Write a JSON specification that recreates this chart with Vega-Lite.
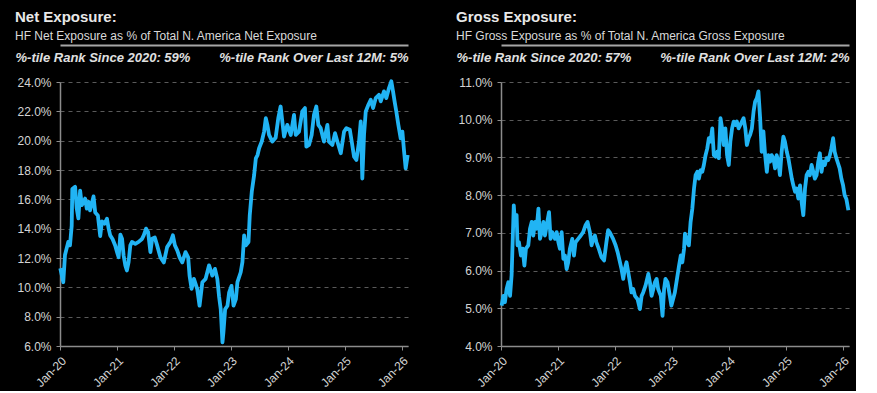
{
  "$schema": "https://vega.github.io/schema/vega-lite/v6.json",
  "background": "#000000",
  "padding": {"left": 15, "top": 10, "right": 5, "bottom": 2},
  "spacing": 46,
  "config": {
    "view": {"stroke": null},
    "font": "Liberation Sans",
    "axis": {
      "domainColor": "#8c8c8c",
      "domainWidth": 1.5,
      "tickColor": "#8c8c8c",
      "tickSize": 4,
      "labelColor": "#d4d4d4",
      "labelFontSize": 12,
      "labelFont": "Liberation Sans",
      "labelPadding": 5,
      "labelOverlap": false,
      "gridColor": "#5a5a5a",
      "gridDash": [4, 4],
      "gridWidth": 1
    },
    "title": {
      "anchor": "start",
      "frame": "bounds",
      "font": "Liberation Sans",
      "fontSize": 15,
      "fontWeight": "bold",
      "color": "#e8e8e8",
      "subtitleFont": "Liberation Sans",
      "subtitleFontSize": 12,
      "subtitleColor": "#d9d9d9",
      "subtitlePadding": 6,
      "offset": 3
    }
  },
  "datasets": {
    "net": [
      {"date": "2020-01-03", "value": 11.3},
      {"date": "2020-01-22", "value": 10.35},
      {"date": "2020-02-02", "value": 12.2},
      {"date": "2020-02-23", "value": 13.1},
      {"date": "2020-03-05", "value": 12.86},
      {"date": "2020-03-16", "value": 14.2},
      {"date": "2020-03-20", "value": 16.7},
      {"date": "2020-04-07", "value": 16.85},
      {"date": "2020-04-17", "value": 15.4},
      {"date": "2020-04-28", "value": 14.7},
      {"date": "2020-05-09", "value": 16.6},
      {"date": "2020-05-20", "value": 15.6},
      {"date": "2020-06-10", "value": 16.05},
      {"date": "2020-06-21", "value": 15.37},
      {"date": "2020-07-02", "value": 15.83},
      {"date": "2020-07-12", "value": 15.25},
      {"date": "2020-08-03", "value": 16.2},
      {"date": "2020-08-14", "value": 15.1},
      {"date": "2020-08-31", "value": 14.9},
      {"date": "2020-09-15", "value": 13.5},
      {"date": "2020-09-26", "value": 14.5},
      {"date": "2020-10-13", "value": 14.34},
      {"date": "2020-10-28", "value": 14.68},
      {"date": "2020-11-08", "value": 14.0},
      {"date": "2020-11-18", "value": 13.54},
      {"date": "2020-12-03", "value": 13.3},
      {"date": "2020-12-20", "value": 12.85},
      {"date": "2021-01-01", "value": 12.4},
      {"date": "2021-01-11", "value": 12.05},
      {"date": "2021-01-22", "value": 13.6},
      {"date": "2021-02-02", "value": 13.32},
      {"date": "2021-02-12", "value": 12.17},
      {"date": "2021-02-23", "value": 11.5},
      {"date": "2021-03-05", "value": 11.15},
      {"date": "2021-03-16", "value": 11.72},
      {"date": "2021-03-27", "value": 12.86},
      {"date": "2021-04-07", "value": 13.1},
      {"date": "2021-04-28", "value": 12.97},
      {"date": "2021-05-19", "value": 13.1},
      {"date": "2021-06-10", "value": 13.3},
      {"date": "2021-06-21", "value": 13.54},
      {"date": "2021-07-06", "value": 14.0},
      {"date": "2021-07-19", "value": 13.77},
      {"date": "2021-08-03", "value": 12.4},
      {"date": "2021-08-14", "value": 13.32},
      {"date": "2021-08-31", "value": 13.4},
      {"date": "2021-09-15", "value": 12.86},
      {"date": "2021-10-06", "value": 12.05},
      {"date": "2021-10-28", "value": 11.7},
      {"date": "2021-11-18", "value": 12.74},
      {"date": "2021-12-10", "value": 13.1},
      {"date": "2021-12-25", "value": 13.55},
      {"date": "2022-01-07", "value": 12.86},
      {"date": "2022-01-22", "value": 12.52},
      {"date": "2022-02-06", "value": 12.05},
      {"date": "2022-02-23", "value": 11.7},
      {"date": "2022-03-16", "value": 12.4},
      {"date": "2022-04-02", "value": 12.05},
      {"date": "2022-04-11", "value": 10.8},
      {"date": "2022-04-24", "value": 9.9},
      {"date": "2022-05-09", "value": 10.58},
      {"date": "2022-05-30", "value": 9.9},
      {"date": "2022-06-14", "value": 8.75},
      {"date": "2022-07-02", "value": 10.35},
      {"date": "2022-07-23", "value": 10.58},
      {"date": "2022-08-14", "value": 11.5},
      {"date": "2022-09-04", "value": 10.8},
      {"date": "2022-09-21", "value": 11.26},
      {"date": "2022-10-06", "value": 10.58},
      {"date": "2022-10-17", "value": 9.4},
      {"date": "2022-10-28", "value": 8.5},
      {"date": "2022-11-08", "value": 6.25},
      {"date": "2022-11-14", "value": 6.92},
      {"date": "2022-11-25", "value": 8.5},
      {"date": "2022-12-10", "value": 8.75},
      {"date": "2022-12-21", "value": 9.66},
      {"date": "2023-01-05", "value": 10.1},
      {"date": "2023-01-18", "value": 8.75},
      {"date": "2023-02-02", "value": 9.2},
      {"date": "2023-02-12", "value": 10.35},
      {"date": "2023-03-05", "value": 11.03},
      {"date": "2023-03-16", "value": 11.72},
      {"date": "2023-03-27", "value": 13.54},
      {"date": "2023-04-07", "value": 12.86},
      {"date": "2023-04-24", "value": 13.09},
      {"date": "2023-05-02", "value": 14.91},
      {"date": "2023-05-15", "value": 16.51},
      {"date": "2023-05-30", "value": 17.65},
      {"date": "2023-06-10", "value": 18.79},
      {"date": "2023-06-21", "value": 19.02},
      {"date": "2023-07-01", "value": 19.48},
      {"date": "2023-07-18", "value": 19.94},
      {"date": "2023-08-02", "value": 20.62},
      {"date": "2023-08-13", "value": 21.53},
      {"date": "2023-08-23", "value": 21.08},
      {"date": "2023-09-03", "value": 20.39},
      {"date": "2023-09-24", "value": 19.94},
      {"date": "2023-10-15", "value": 20.2},
      {"date": "2023-11-01", "value": 21.53},
      {"date": "2023-11-16", "value": 22.33},
      {"date": "2023-11-27", "value": 21.31},
      {"date": "2023-12-08", "value": 20.28},
      {"date": "2023-12-29", "value": 21.08},
      {"date": "2024-01-20", "value": 20.39},
      {"date": "2024-02-10", "value": 21.76},
      {"date": "2024-02-21", "value": 20.39},
      {"date": "2024-03-13", "value": 20.62},
      {"date": "2024-04-03", "value": 21.99},
      {"date": "2024-04-20", "value": 22.22},
      {"date": "2024-04-29", "value": 19.59},
      {"date": "2024-05-16", "value": 19.71},
      {"date": "2024-06-02", "value": 20.39},
      {"date": "2024-06-17", "value": 21.76},
      {"date": "2024-07-02", "value": 22.33},
      {"date": "2024-07-15", "value": 21.08},
      {"date": "2024-07-30", "value": 20.85},
      {"date": "2024-08-20", "value": 19.94},
      {"date": "2024-09-11", "value": 21.08},
      {"date": "2024-09-21", "value": 19.94},
      {"date": "2024-10-13", "value": 19.71},
      {"date": "2024-10-30", "value": 20.51},
      {"date": "2024-11-14", "value": 19.94},
      {"date": "2024-12-06", "value": 19.14},
      {"date": "2024-12-27", "value": 20.62},
      {"date": "2025-01-11", "value": 20.85},
      {"date": "2025-02-02", "value": 20.74},
      {"date": "2025-02-14", "value": 19.94},
      {"date": "2025-03-01", "value": 18.91},
      {"date": "2025-03-16", "value": 18.68},
      {"date": "2025-04-02", "value": 19.94},
      {"date": "2025-04-13", "value": 21.31},
      {"date": "2025-04-23", "value": 17.42},
      {"date": "2025-05-04", "value": 20.39},
      {"date": "2025-05-15", "value": 21.99},
      {"date": "2025-06-01", "value": 22.45},
      {"date": "2025-06-16", "value": 22.79},
      {"date": "2025-07-01", "value": 22.22},
      {"date": "2025-07-18", "value": 22.9},
      {"date": "2025-08-08", "value": 23.13},
      {"date": "2025-08-19", "value": 22.68},
      {"date": "2025-09-09", "value": 23.36},
      {"date": "2025-09-24", "value": 22.9},
      {"date": "2025-10-11", "value": 23.59},
      {"date": "2025-10-26", "value": 24.05},
      {"date": "2025-11-06", "value": 23.36},
      {"date": "2025-11-16", "value": 22.68},
      {"date": "2025-11-27", "value": 21.99},
      {"date": "2025-12-10", "value": 21.08},
      {"date": "2025-12-25", "value": 20.16},
      {"date": "2026-01-05", "value": 20.62},
      {"date": "2026-01-16", "value": 19.25},
      {"date": "2026-01-26", "value": 18.11},
      {"date": "2026-02-08", "value": 19.02}
    ],
    "gross": [
      {"date": "2020-01-05", "value": 5.07},
      {"date": "2020-01-16", "value": 5.33},
      {"date": "2020-01-26", "value": 5.16},
      {"date": "2020-02-06", "value": 5.51},
      {"date": "2020-02-17", "value": 5.69},
      {"date": "2020-02-28", "value": 5.33},
      {"date": "2020-03-09", "value": 5.87},
      {"date": "2020-03-17", "value": 6.93},
      {"date": "2020-03-23", "value": 7.73},
      {"date": "2020-03-30", "value": 7.29},
      {"date": "2020-04-10", "value": 7.47},
      {"date": "2020-04-16", "value": 6.67},
      {"date": "2020-04-25", "value": 6.75},
      {"date": "2020-05-08", "value": 6.4},
      {"date": "2020-05-19", "value": 6.58},
      {"date": "2020-05-30", "value": 6.13},
      {"date": "2020-06-09", "value": 6.58},
      {"date": "2020-06-24", "value": 6.67},
      {"date": "2020-07-05", "value": 7.11},
      {"date": "2020-07-16", "value": 7.29},
      {"date": "2020-07-26", "value": 6.93},
      {"date": "2020-08-06", "value": 7.29},
      {"date": "2020-08-17", "value": 7.11},
      {"date": "2020-08-28", "value": 7.64},
      {"date": "2020-09-07", "value": 6.84},
      {"date": "2020-09-18", "value": 7.02},
      {"date": "2020-09-29", "value": 7.29},
      {"date": "2020-10-09", "value": 6.93},
      {"date": "2020-10-20", "value": 7.2},
      {"date": "2020-11-04", "value": 7.55},
      {"date": "2020-11-14", "value": 6.84},
      {"date": "2020-11-25", "value": 7.02},
      {"date": "2020-12-12", "value": 6.84},
      {"date": "2020-12-23", "value": 7.02},
      {"date": "2021-01-03", "value": 6.75},
      {"date": "2021-01-13", "value": 6.58},
      {"date": "2021-01-24", "value": 7.02},
      {"date": "2021-02-04", "value": 6.31},
      {"date": "2021-02-14", "value": 6.4},
      {"date": "2021-02-25", "value": 6.04},
      {"date": "2021-03-07", "value": 6.22},
      {"date": "2021-03-18", "value": 6.58},
      {"date": "2021-04-02", "value": 6.84},
      {"date": "2021-04-13", "value": 6.4},
      {"date": "2021-04-23", "value": 6.75},
      {"date": "2021-05-10", "value": 6.84},
      {"date": "2021-05-27", "value": 6.93},
      {"date": "2021-06-11", "value": 7.02},
      {"date": "2021-06-26", "value": 7.2},
      {"date": "2021-07-09", "value": 7.29},
      {"date": "2021-07-24", "value": 7.02},
      {"date": "2021-08-04", "value": 6.67},
      {"date": "2021-08-14", "value": 6.84},
      {"date": "2021-08-25", "value": 6.93},
      {"date": "2021-09-04", "value": 6.75},
      {"date": "2021-09-19", "value": 6.58},
      {"date": "2021-10-06", "value": 6.36},
      {"date": "2021-10-23", "value": 6.27},
      {"date": "2021-11-07", "value": 6.75},
      {"date": "2021-11-18", "value": 7.07},
      {"date": "2021-11-28", "value": 7.02},
      {"date": "2021-12-20", "value": 6.84},
      {"date": "2022-01-05", "value": 6.67},
      {"date": "2022-01-18", "value": 6.49},
      {"date": "2022-02-02", "value": 6.22},
      {"date": "2022-02-12", "value": 6.04},
      {"date": "2022-02-23", "value": 5.78},
      {"date": "2022-03-05", "value": 6.04},
      {"date": "2022-03-16", "value": 6.22},
      {"date": "2022-03-27", "value": 5.96},
      {"date": "2022-04-07", "value": 5.69},
      {"date": "2022-04-17", "value": 5.42},
      {"date": "2022-04-28", "value": 5.51},
      {"date": "2022-05-09", "value": 5.33},
      {"date": "2022-05-26", "value": 5.24},
      {"date": "2022-06-10", "value": 4.98},
      {"date": "2022-06-21", "value": 5.33},
      {"date": "2022-07-01", "value": 5.42},
      {"date": "2022-07-16", "value": 5.6},
      {"date": "2022-08-03", "value": 5.91},
      {"date": "2022-08-13", "value": 5.69},
      {"date": "2022-08-24", "value": 5.33},
      {"date": "2022-09-04", "value": 5.51},
      {"date": "2022-09-14", "value": 5.69},
      {"date": "2022-09-25", "value": 5.78},
      {"date": "2022-10-05", "value": 5.51},
      {"date": "2022-10-22", "value": 5.33},
      {"date": "2022-11-02", "value": 4.8},
      {"date": "2022-11-12", "value": 5.51},
      {"date": "2022-11-21", "value": 5.78},
      {"date": "2022-12-04", "value": 5.69},
      {"date": "2022-12-19", "value": 5.33},
      {"date": "2022-12-29", "value": 5.07},
      {"date": "2023-01-20", "value": 5.42},
      {"date": "2023-02-06", "value": 5.87},
      {"date": "2023-02-16", "value": 6.13},
      {"date": "2023-02-27", "value": 6.4},
      {"date": "2023-03-09", "value": 6.22},
      {"date": "2023-03-20", "value": 6.58},
      {"date": "2023-03-26", "value": 6.98},
      {"date": "2023-04-10", "value": 6.75},
      {"date": "2023-04-20", "value": 6.67},
      {"date": "2023-05-01", "value": 7.29},
      {"date": "2023-05-12", "value": 7.64},
      {"date": "2023-05-23", "value": 8.18},
      {"date": "2023-06-02", "value": 8.53},
      {"date": "2023-06-13", "value": 8.62},
      {"date": "2023-06-23", "value": 8.44},
      {"date": "2023-07-04", "value": 8.66},
      {"date": "2023-07-15", "value": 8.62},
      {"date": "2023-07-25", "value": 8.8},
      {"date": "2023-08-05", "value": 9.06},
      {"date": "2023-08-16", "value": 9.24},
      {"date": "2023-08-26", "value": 9.51},
      {"date": "2023-09-06", "value": 9.42},
      {"date": "2023-09-17", "value": 9.77},
      {"date": "2023-09-27", "value": 9.06},
      {"date": "2023-10-08", "value": 9.02},
      {"date": "2023-10-19", "value": 9.15},
      {"date": "2023-10-29", "value": 8.98},
      {"date": "2023-11-09", "value": 10.04},
      {"date": "2023-11-19", "value": 9.77},
      {"date": "2023-11-30", "value": 9.33},
      {"date": "2023-12-10", "value": 9.77},
      {"date": "2023-12-21", "value": 9.06},
      {"date": "2024-01-01", "value": 8.8},
      {"date": "2024-01-11", "value": 9.42},
      {"date": "2024-01-22", "value": 9.77},
      {"date": "2024-02-01", "value": 9.95},
      {"date": "2024-02-12", "value": 9.86},
      {"date": "2024-02-22", "value": 9.95},
      {"date": "2024-03-04", "value": 9.77},
      {"date": "2024-03-15", "value": 9.86},
      {"date": "2024-03-25", "value": 9.95},
      {"date": "2024-04-05", "value": 10.04},
      {"date": "2024-04-16", "value": 9.77},
      {"date": "2024-04-26", "value": 9.33},
      {"date": "2024-05-07", "value": 9.51},
      {"date": "2024-05-17", "value": 9.6},
      {"date": "2024-05-28", "value": 9.77},
      {"date": "2024-06-08", "value": 10.22},
      {"date": "2024-06-18", "value": 10.48},
      {"date": "2024-06-29", "value": 10.57},
      {"date": "2024-07-09", "value": 10.75},
      {"date": "2024-07-20", "value": 10.04},
      {"date": "2024-07-30", "value": 9.15},
      {"date": "2024-08-10", "value": 9.69},
      {"date": "2024-08-21", "value": 9.06},
      {"date": "2024-09-01", "value": 8.62},
      {"date": "2024-09-11", "value": 9.06},
      {"date": "2024-09-22", "value": 8.89},
      {"date": "2024-10-02", "value": 9.06},
      {"date": "2024-10-13", "value": 8.98},
      {"date": "2024-10-24", "value": 8.71},
      {"date": "2024-11-03", "value": 9.06},
      {"date": "2024-11-14", "value": 8.89},
      {"date": "2024-11-24", "value": 8.53},
      {"date": "2024-12-05", "value": 9.15},
      {"date": "2024-12-16", "value": 9.55},
      {"date": "2024-12-26", "value": 9.42},
      {"date": "2025-01-07", "value": 9.15},
      {"date": "2025-01-17", "value": 8.98},
      {"date": "2025-01-28", "value": 8.71},
      {"date": "2025-02-08", "value": 8.44},
      {"date": "2025-02-18", "value": 8.26},
      {"date": "2025-03-01", "value": 8.09},
      {"date": "2025-03-11", "value": 8.18},
      {"date": "2025-03-22", "value": 7.91},
      {"date": "2025-04-02", "value": 8.26},
      {"date": "2025-04-12", "value": 7.82},
      {"date": "2025-04-23", "value": 7.47},
      {"date": "2025-05-04", "value": 8.18},
      {"date": "2025-05-14", "value": 8.53},
      {"date": "2025-05-25", "value": 8.62},
      {"date": "2025-06-04", "value": 8.53},
      {"date": "2025-06-15", "value": 8.8},
      {"date": "2025-06-26", "value": 8.62},
      {"date": "2025-07-06", "value": 8.44},
      {"date": "2025-07-17", "value": 8.53},
      {"date": "2025-07-28", "value": 8.89},
      {"date": "2025-08-07", "value": 9.11},
      {"date": "2025-08-18", "value": 8.62},
      {"date": "2025-08-28", "value": 8.89},
      {"date": "2025-09-08", "value": 8.8},
      {"date": "2025-09-19", "value": 8.98},
      {"date": "2025-09-29", "value": 8.93},
      {"date": "2025-10-10", "value": 9.06},
      {"date": "2025-10-20", "value": 9.24},
      {"date": "2025-10-31", "value": 9.51},
      {"date": "2025-11-10", "value": 9.15},
      {"date": "2025-11-21", "value": 8.98},
      {"date": "2025-12-02", "value": 8.84},
      {"date": "2025-12-12", "value": 8.71},
      {"date": "2025-12-23", "value": 8.44},
      {"date": "2026-01-03", "value": 8.26},
      {"date": "2026-01-13", "value": 8.0},
      {"date": "2026-01-24", "value": 7.9},
      {"date": "2026-02-06", "value": 7.6}
    ]
  },
  "hconcat": [
    {
      "width": 348,
      "height": 264,
      "title": {"text": "Net Exposure:", "subtitle": "HF Net Exposure as % of Total N. America Net Exposure"},
      "data": {"name": "net"},
      "layer": [
        {
          "mark": {"type": "line", "color": "#21b4f4", "strokeWidth": 3.8, "strokeJoin": "round"},
          "encoding": {
            "x": {
              "field": "date", "type": "temporal",
              "scale": {"domain": [{"year": 2020, "month": 1, "date": 1}, {"year": 2026, "month": 2, "date": 10}]},
              "axis": {"orient": "bottom", "format": "%b-%y", "labelAngle": -45, "tickCount": {"interval": "year", "step": 1}, "grid": false, "title": null}
            },
            "y": {
              "field": "value", "type": "quantitative",
              "scale": {"domain": [6, 24], "nice": false, "zero": false},
              "axis": {"values": [6, 8, 10, 12, 14, 16, 18, 20, 22, 24], "tickCount": 30, "labelExpr": "format(datum.value, '.1f') + '%'", "title": null, "grid": true}
            }
          }
        },
        {
          "mark": {"type": "line", "opacity": 0},
          "encoding": {
            "x": {
              "field": "date", "type": "temporal",
              "axis": {"orient": "top", "offset": 37, "labels": false, "ticks": false, "grid": false, "domainColor": "#a6a6a6", "domainWidth": 2,
                "title": "%-tile Rank Since 2020: 59%\u00a0\u00a0\u00a0\u00a0\u00a0\u00a0\u00a0\u00a0%-tile Rank Over Last 12M: 5%",
                "titleX": -45, "titleY": 16, "titleAlign": "left", "titleAnchor": null, "titleBaseline": "alphabetic",
                "titleFontStyle": "italic", "titleFontWeight": "bold", "titleFontSize": 13, "titleColor": "#e0e0e0", "titleFont": "Liberation Sans"}
            },
            "y": {"field": "value", "type": "quantitative", "axis": {"tickCount": 30}}
          }
        }
      ],
      "resolve": {"axis": {"x": "independent"}}
    },
    {
      "width": 348,
      "height": 264,
      "title": {"text": "Gross Exposure:", "subtitle": "HF Gross Exposure as % of Total N. America Gross Exposure"},
      "data": {"name": "gross"},
      "layer": [
        {
          "mark": {"type": "line", "color": "#21b4f4", "strokeWidth": 3.8, "strokeJoin": "round"},
          "encoding": {
            "x": {
              "field": "date", "type": "temporal",
              "scale": {"domain": [{"year": 2020, "month": 1, "date": 1}, {"year": 2026, "month": 2, "date": 10}]},
              "axis": {"orient": "bottom", "format": "%b-%y", "labelAngle": -45, "tickCount": {"interval": "year", "step": 1}, "grid": false, "title": null}
            },
            "y": {
              "field": "value", "type": "quantitative",
              "scale": {"domain": [4, 11], "nice": false, "zero": false},
              "axis": {"values": [4, 5, 6, 7, 8, 9, 10, 11], "tickCount": 30, "labelExpr": "format(datum.value, '.1f') + '%'", "title": null, "grid": true}
            }
          }
        },
        {
          "mark": {"type": "line", "opacity": 0},
          "encoding": {
            "x": {
              "field": "date", "type": "temporal",
              "axis": {"orient": "top", "offset": 37, "labels": false, "ticks": false, "grid": false, "domainColor": "#a6a6a6", "domainWidth": 2,
                "title": "%-tile Rank Since 2020: 57%\u00a0\u00a0\u00a0\u00a0\u00a0\u00a0\u00a0\u00a0%-tile Rank Over Last 12M: 2%",
                "titleX": -45, "titleY": 16, "titleAlign": "left", "titleAnchor": null, "titleBaseline": "alphabetic",
                "titleFontStyle": "italic", "titleFontWeight": "bold", "titleFontSize": 13, "titleColor": "#e0e0e0", "titleFont": "Liberation Sans"}
            },
            "y": {"field": "value", "type": "quantitative", "axis": {"tickCount": 30}}
          }
        }
      ],
      "resolve": {"axis": {"x": "independent"}}
    }
  ]
}
